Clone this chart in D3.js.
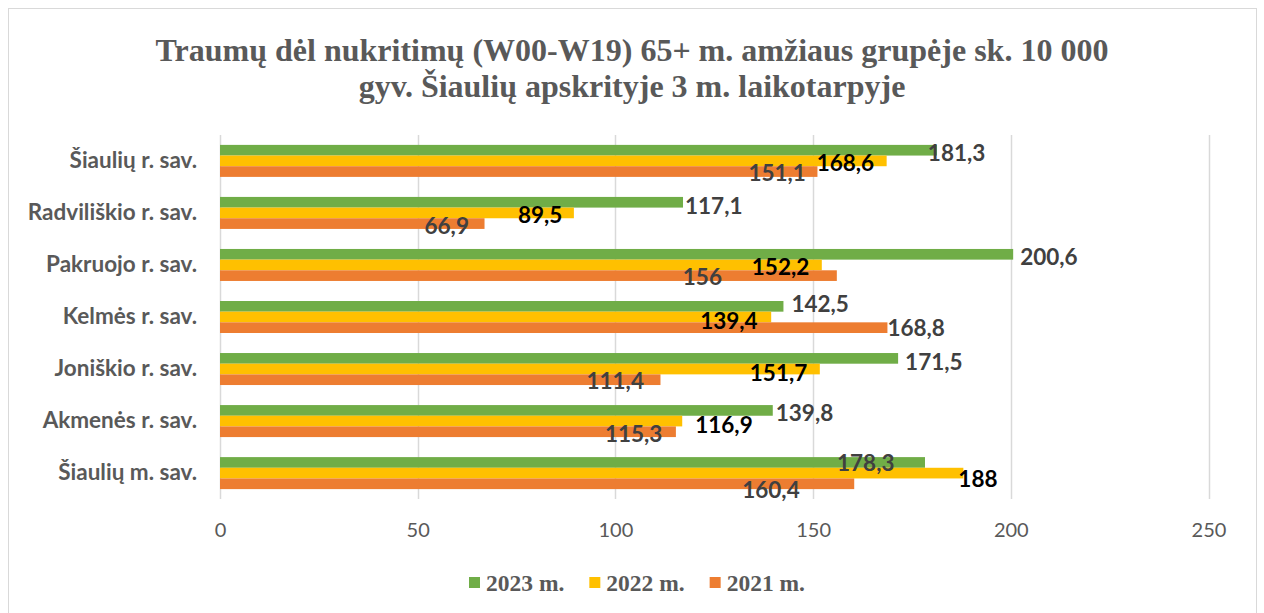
<!DOCTYPE html>
<html>
<head>
<meta charset="utf-8">
<script src="https://cdn.jsdelivr.net/npm/d3@7"></script>
<style>
  body { margin: 0; background: #fff; }
  svg { display: block; }
</style>
</head>
<body>
<svg id="chart" width="1264" height="613"></svg>
<script>
// Data
const categories = ['Šiaulių r. sav.', 'Radviliškio r. sav.', 'Pakruojo r. sav.', 'Kelmės r. sav.',
  'Joniškio r. sav.', 'Akmenės r. sav.', 'Šiaulių m. sav.'];
const seriesNames = ['2023 m.', '2022 m.', '2021 m.'];
const values2023 = [181.3, 117.1, 200.6, 142.5, 171.5, 139.8, 178.3];
const values2022 = [168.6, 89.5, 152.2, 139.4, 151.7, 116.9, 188];
const values2021 = [151.1, 66.9, 156, 168.8, 111.4, 115.3, 160.4];
const xTicks = [0, 50, 100, 150, 200, 250];

const colors = ['#70ad47', '#ffc000', '#ed7d31'];
const labelColors = ['#404040', '#000000', '#404040'];
// label shifts (px) relative to bar end, as placed by hand in the original
const labelShift = [
  [[-9, 2], [2, 3], [7, 2], [8, -3], [7, 3], [3, 2], [-88, 0]],
  [[-70, 2], [-56, 2], [-70, 2], [-71, 3], [-70, 3], [13, 3], [-5, 5]],
  [[-69, 1], [-60, 2], [-154, 1], [0, 0], [-74, 1], [-71, 2], [-112, 6]]
];

const series = [values2023, values2022, values2021];
const svg = d3.select('#chart');

// outer frame
svg.append('rect')
  .attr('x', 8.5).attr('y', 8.5)
  .attr('width', 1248).attr('height', 620)
  .attr('fill', 'none')
  .attr('stroke', '#d9d9d9');

// title
const title = svg.append('text')
  .attr('text-anchor', 'middle')
  .attr('fill', '#595959')
  .style('font-family', '"Liberation Serif", "Times New Roman", serif')
  .style('font-weight', 'bold')
  .style('font-size', '32px');
title.append('tspan').attr('x', 632).attr('y', 61)
  .text('Traumų dėl nukritimų (W00-W19) 65+ m. amžiaus grupėje sk. 10 000');
title.append('tspan').attr('x', 632).attr('y', 97)
  .text('gyv. Šiaulių apskrityje 3 m. laikotarpyje');

// scales
const x = d3.scaleLinear().domain([0, 250]).range([220, 1208.5]);
const y = d3.scaleBand().domain(categories).range([135, 499]).paddingInner(0.385).paddingOuter(0.19);
const ySub = d3.scaleBand().domain(d3.range(3)).range([0, y.bandwidth()]);

// gridlines
svg.append('g')
  .selectAll('line')
  .data(xTicks)
  .join('line')
  .attr('x1', d => Math.round(x(d)) + 0.5)
  .attr('x2', d => Math.round(x(d)) + 0.5)
  .attr('y1', 135).attr('y2', 499)
  .attr('stroke', '#d9d9d9')
  .attr('stroke-width', 1.5);

// x axis labels
const xAxis = svg.append('g')
  .attr('transform', 'translate(0,499)')
  .call(d3.axisBottom(x).tickValues(xTicks).tickSize(0).tickPadding(24).tickFormat(d3.format('d')));
xAxis.select('.domain').remove();
xAxis.selectAll('text')
  .attr('fill', '#595959')
  .style('font-family', 'Lato, "Open Sans", sans-serif')
  .style('font-size', '20px');

// category labels
const yAxis = svg.append('g')
  .attr('transform', 'translate(220,0)')
  .call(d3.axisLeft(y).tickSize(0).tickPadding(23));
yAxis.select('.domain').remove();
yAxis.selectAll('text')
  .attr('fill', '#595959')
  .style('font-family', 'Lato, "Open Sans", sans-serif')
  .style('font-weight', 'bold')
  .style('font-size', '22.5px');

// bars
series.forEach((vals, s) => {
  svg.append('g')
    .selectAll('rect')
    .data(vals)
    .join('rect')
    .attr('x', x(0))
    .attr('y', (d, i) => y(categories[i]) + ySub(s))
    .attr('width', d => x(d) - x(0))
    .attr('height', ySub.bandwidth())
    .attr('fill', colors[s]);
});

// data labels
series.forEach((vals, s) => {
  svg.append('g')
    .selectAll('text')
    .data(vals)
    .join('text')
    .attr('x', (d, i) => x(d) + labelShift[s][i][0])
    .attr('y', (d, i) => y(categories[i]) + ySub(s) + ySub.bandwidth() / 2 + labelShift[s][i][1])
    .attr('dominant-baseline', 'central')
    .attr('fill', labelColors[s])
    .style('font-family', 'Lato, "Open Sans", sans-serif')
    .style('font-weight', 'bold')
    .style('font-size', '22.5px')
    .text(d => String(d).replace('.', ','));
});

// legend
const legend = svg.append('g').attr('transform', 'translate(469,583)');
let lx = 0;
seriesNames.forEach((name, s) => {
  const g = legend.append('g').attr('transform', `translate(${lx},0)`);
  g.append('rect').attr('x', 0).attr('y', -6).attr('width', 11).attr('height', 11).attr('fill', colors[s]);
  const t = g.append('text')
    .attr('x', 17).attr('y', 0)
    .attr('dominant-baseline', 'central')
    .attr('fill', '#595959')
    .style('font-family', '"Liberation Serif", "Times New Roman", serif')
    .style('font-weight', 'bold')
    .style('font-size', '23.5px')
    .text(name);
  lx += 17 + t.node().getComputedTextLength() + 25;
});
</script>
</body>
</html>
